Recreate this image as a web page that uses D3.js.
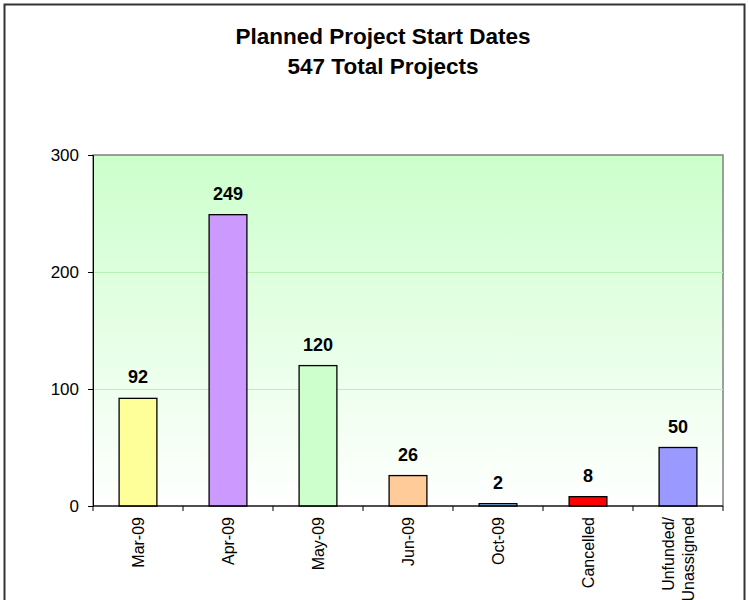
<!DOCTYPE html>
<html>
<head>
<meta charset="utf-8">
<script src="https://cdnjs.cloudflare.com/ajax/libs/d3/7.8.5/d3.min.js"></script>
<style>
  body { margin: 0; background: #fff; }
  text { font-family: "Liberation Sans", Arial, sans-serif; }
</style>
</head>
<body>
<svg id="chart" width="749" height="600"></svg>
<script>
const categories = ["Mar-09", "Apr-09", "May-09", "Jun-09", "Oct-09", "Cancelled", "Unfunded/\nUnassigned"];
const values = [92, 249, 120, 26, 2, 8, 50];
const barColors = ["#ffff99", "#cc99ff", "#ccffcc", "#ffcc99", "#99ccff", "#ff0000", "#9999ff"];
const yTicks = [0, 100, 200, 300];
const titleLines = ["Planned Project Start Dates", "547 Total Projects"];

const svg = d3.select("#chart");
const plot = { left: 93, right: 723, top: 155, bottom: 506 };

// outer chart frame
svg.append("rect")
  .attr("x", 4.5).attr("y", 4.5)
  .attr("width", 740).attr("height", 620)
  .attr("fill", "#fff")
  .attr("stroke", "#333")
  .attr("stroke-width", 2);

const defs = svg.append("defs");
const grad = defs.append("linearGradient")
  .attr("id", "bg").attr("x1", 0).attr("y1", 0).attr("x2", 0).attr("y2", 1);
grad.append("stop").attr("offset", "0%").attr("stop-color", "#ccffcc");
grad.append("stop").attr("offset", "100%").attr("stop-color", "#ffffff");

const x = d3.scaleBand()
  .domain(categories)
  .range([plot.left, plot.right])
  .paddingInner(0.58)
  .paddingOuter(0.29);

const xBand = d3.scaleBand()
  .domain(categories)
  .range([plot.left, plot.right]);

const y = d3.scaleLinear()
  .domain([0, 300])
  .range([plot.bottom, plot.top]);

// plot area
svg.append("rect")
  .attr("x", plot.left).attr("y", plot.top)
  .attr("width", plot.right - plot.left)
  .attr("height", plot.bottom - plot.top)
  .attr("fill", "url(#bg)")
  .attr("stroke", "#808080")
  .attr("stroke-width", 1.5);

// gridlines
svg.append("g")
  .selectAll("line")
  .data(yTicks.filter(d => d > 0 && d < 300))
  .join("line")
  .attr("x1", plot.left).attr("x2", plot.right)
  .attr("y1", d => y(d) + 0.5).attr("y2", d => y(d) + 0.5)
  .attr("stroke", "#b8f0b8")
  .attr("stroke-width", 1);

// bars
svg.append("g")
  .selectAll("rect")
  .data(values)
  .join("rect")
  .attr("x", (d, i) => x(categories[i]))
  .attr("y", d => y(d))
  .attr("width", x.bandwidth())
  .attr("height", d => y(0) - y(d))
  .attr("fill", (d, i) => barColors[i])
  .attr("stroke", "#000")
  .attr("stroke-width", 1.3);

// value labels
svg.append("g")
  .selectAll("text")
  .data(values)
  .join("text")
  .attr("x", (d, i) => x(categories[i]) + x.bandwidth() / 2)
  .attr("y", d => y(d) - 15)
  .attr("text-anchor", "middle")
  .attr("font-size", 18)
  .attr("font-weight", "bold")
  .text(d => d);

// y axis
const yAxis = svg.append("g")
  .attr("transform", `translate(${plot.left},0)`)
  .call(d3.axisLeft(y).tickValues(yTicks).tickSize(5).tickPadding(9));
yAxis.select(".domain").attr("stroke", "#000");
yAxis.selectAll(".tick line").attr("stroke", "#000");
yAxis.selectAll("text").attr("font-size", 17).attr("fill", "#000")
  .attr("font-family", "Liberation Sans, Arial, sans-serif");

// x axis baseline + boundary ticks
const xg = svg.append("g");
xg.append("line")
  .attr("x1", plot.left).attr("x2", plot.right)
  .attr("y1", plot.bottom).attr("y2", plot.bottom)
  .attr("stroke", "#000");
xg.selectAll("line.tk")
  .data(categories.concat(["end"]))
  .join("line")
  .attr("class", "tk")
  .attr("x1", (d, i) => i < categories.length ? xBand(d) : plot.right)
  .attr("x2", (d, i) => i < categories.length ? xBand(d) : plot.right)
  .attr("y1", plot.bottom).attr("y2", plot.bottom + 5)
  .attr("stroke", "#000");

// rotated category labels
const lab = svg.append("g")
  .selectAll("text")
  .data(categories)
  .join("text")
  .attr("transform", d => {
    const n = d.split("\n").length;
    const cx = xBand(d) + xBand.bandwidth() / 2 + 5.5 - (n - 1) * 10;
    return `translate(${cx},${plot.bottom + 11}) rotate(-90)`;
  })
  .attr("text-anchor", "end")
  .attr("font-size", 16);
lab.selectAll("tspan")
  .data(d => d.split("\n"))
  .join("tspan")
  .attr("x", 0)
  .attr("dy", (d, i) => i === 0 ? 0 : 20)
  .text(d => d);

// title
svg.append("g")
  .selectAll("text")
  .data(titleLines)
  .join("text")
  .attr("x", 383)
  .attr("y", (d, i) => 44 + i * 30)
  .attr("text-anchor", "middle")
  .attr("font-size", 22.5)
  .attr("font-weight", "bold")
  .text(d => d);
</script>
</body>
</html>
